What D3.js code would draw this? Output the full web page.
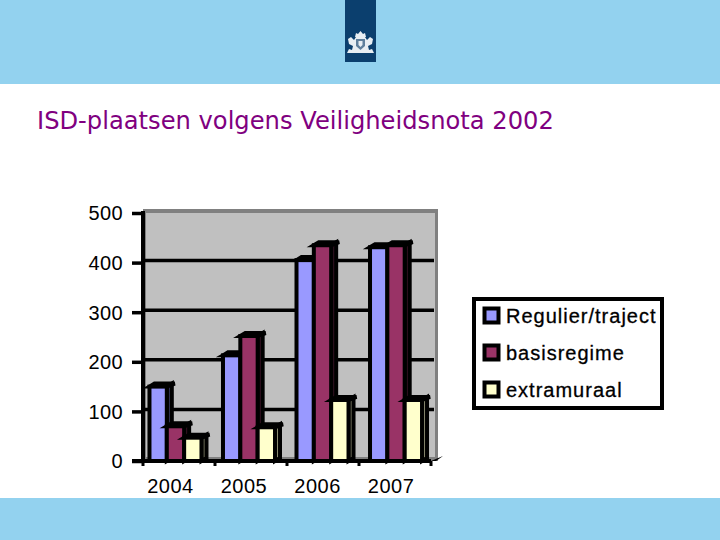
<!DOCTYPE html>
<html><head><meta charset="utf-8">
<script src="https://cdn.jsdelivr.net/npm/d3@7"></script>
<style>html,body{margin:0;padding:0;background:#fff}svg{display:block}</style>
</head><body><svg id="c" width="720" height="540"></svg>
<script>
const categories = ["2004","2005","2006","2007"];
const seriesNames = ["Regulier/traject","basisregime","extramuraal"];
const regulier = [150,213,405,431];
const basisregime = [70,252,435,435];
const extramuraal = [47,68,123,123];
const yTicks = [0,100,200,300,400,500];
const colors = ["#9999FF","#993366","#FFFFCC"];
const sideColors = ["#3a3a60","#3d1528","#8a8a70"];
const values = [regulier,basisregime,extramuraal];

const svg = d3.select("#c");
const font = "'Liberation Sans',Arial,sans-serif";
// page
svg.append("rect").attr("x",0).attr("y",0).attr("width",720).attr("height",84).attr("fill","#93D2EF");
svg.append("rect").attr("x",0).attr("y",498).attr("width",720).attr("height",42).attr("fill","#93D2EF");
svg.append("rect").attr("x",345).attr("y",0).attr("width",31).attr("height",62).attr("fill","#0B3F6E");
// crest
const crest = svg.append("g").attr("fill","#E8EEF3").attr("stroke","none");
crest.append("path").attr("d","M347 53 L374 53 L372 49 L369 50 L368 46 L372 44 L373 39 L370 37 L367 40 L365 37 L356 37 L354 40 L351 37 L348 39 L349 44 L353 46 L352 50 L349 49 Z");
crest.append("path").attr("d","M355 37 L356 33 L358 34 L360.5 31 L363 34 L365 33 L366 37 Z");
crest.append("path").attr("d","M356 39 H365 V46 L360.5 50 L356 46 Z").attr("fill","#5f7f9c");
crest.append("path").attr("d","M358.5 41 H362.5 V45 L360.5 47 L358.5 45 Z");

svg.append("text").attr("x",37).attr("y",129).attr("font-family","'DejaVu Sans',Verdana,sans-serif")
  .attr("font-size",24.2).attr("fill","#800080").text("ISD-plaatsen volgens Veiligheidsnota 2002");

// scales
const y = d3.scaleLinear().domain([0,500]).range([461,213]);
const x0 = d3.scaleBand().domain(categories).range([143,428.5]).paddingInner(0.2925).paddingOuter(0.088);
const x1 = d3.scaleBand().domain(seriesNames).range([0,x0.bandwidth()]).padding(0);
const xTick = d3.scaleLinear().domain([0,4]).range([143,431]);
const depthX = 5, depthY = 3;

// walls
svg.append("rect").attr("x",143).attr("y",209).attr("width",295).attr("height",252).attr("fill","#808080");
svg.append("rect").attr("x",146).attr("y",213).attr("width",289).attr("height",244).attr("fill","#C0C0C0");
const g = svg.append("g");
// gridlines
g.selectAll("line.grid").data(yTicks.slice(1,5)).join("line")
  .attr("x1",145).attr("x2",434).attr("y1",d=>y(d)-2).attr("y2",d=>y(d)-2)
  .attr("stroke","#000").attr("stroke-width",3.5);
// axes
const axisY = svg.append("g").attr("transform","translate(143,0)").call(d3.axisLeft(y).tickValues(yTicks).tickSize(11).tickPadding(9));
axisY.select(".domain").attr("stroke-width",4).attr("d","M0,211V461");
axisY.selectAll(".tick line").attr("stroke-width",3.5);
axisY.selectAll("text").attr("font-family",font).attr("font-size",20).attr("letter-spacing",0.4).attr("fill","#000").attr("dy","0.34em");
const axisX = svg.append("g").attr("transform","translate(0,461)").call(d3.axisBottom(x0).tickSize(0).tickPadding(18));
axisX.select(".domain").attr("stroke-width",4).attr("d","M132,0H431");
axisX.selectAll("text").attr("font-family",font).attr("font-size",20).attr("letter-spacing",0.5).attr("fill","#000").attr("dx",-5);
d3.range(5).forEach(i=>{
  const px = xTick(i);
  svg.append("line").attr("x1",px).attr("x2",px).attr("y1",461).attr("y2",466).attr("stroke","#000").attr("stroke-width",3);
});
svg.append("path").attr("d","M431 461 L443 456 L436 461 Z").attr("fill","#000");

// bars
const bars = svg.append("g").attr("stroke","#000").attr("stroke-width",4).attr("stroke-linejoin","miter");
categories.forEach((c,ci)=>{
  seriesNames.forEach((s,si)=>{
    const v = values[si][ci];
    const xl = x0(c)+x1(s), w = x1.bandwidth(), yt = y(v), yb = y(0);
    const b = bars.append("g");
    b.append("path").attr("d",`M${xl+w} ${yt} L${xl+w+depthX} ${yt-depthY} L${xl+w+depthX} ${yb-depthY} L${xl+w} ${yb} Z`).attr("fill",sideColors[si]);
    b.append("path").attr("d",`M${xl} ${yt} L${xl+depthX} ${yt-depthY} L${xl+w+depthX+3} ${yt-depthY} L${xl+w} ${yt} Z`).attr("fill",colors[si]);
    b.append("rect").attr("x",xl).attr("y",yt).attr("width",w).attr("height",yb-yt).attr("fill",colors[si]);
  });
});

// legend
svg.append("rect").attr("x",474).attr("y",299).attr("width",188).attr("height",109).attr("fill","#fff").attr("stroke","#000").attr("stroke-width",4);
const ly = d3.scalePoint().domain(seriesNames).range([316,390]);
const lg = svg.append("g").selectAll("g").data(seriesNames).join("g");
lg.append("rect").attr("x",484.5).attr("y",d=>ly(d)-7.5).attr("width",14).attr("height",14)
  .attr("fill",(d,i)=>colors[i]).attr("stroke","#000").attr("stroke-width",4);
lg.append("text").attr("x",506).attr("y",d=>ly(d)+7).attr("font-family",font).attr("font-size",20).attr("letter-spacing",1).attr("fill","#000")
  .attr("stroke","#000").attr("stroke-width",0.3).text(d=>d);
</script></body></html>
